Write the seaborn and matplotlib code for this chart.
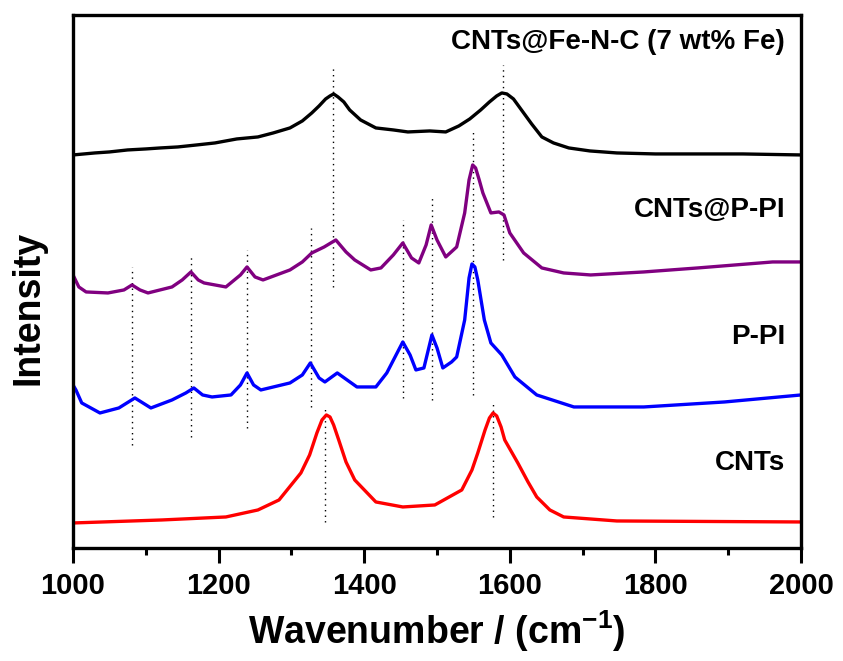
import pandas as pd
import matplotlib
matplotlib.use("Agg")
import matplotlib.pyplot as plt
import seaborn as sns

# Raman spectra (wavenumber, offset intensity in a.u.)
wn_fenc = [1000, 1030, 1050, 1075, 1100, 1120, 1144, 1170, 1195, 1225, 1254, 1275, 1298,
           1315, 1328, 1338, 1347, 1353, 1358, 1364, 1372, 1380, 1395,
           1416, 1440, 1460, 1490, 1512, 1530, 1545, 1560, 1572, 1582, 1589, 1596,
           1605, 1615, 1630, 1644, 1660, 1681, 1710, 1747, 1800, 1858, 1920, 2000]
int_fenc = [393, 395, 396, 398, 399, 400, 401, 403, 405, 409, 411, 415, 420,
            427, 435, 442, 449, 452, 454, 451, 446, 438, 428,
            420, 418, 416, 417, 416, 422, 429, 438, 446, 452, 455, 454,
            449, 439, 424, 411, 405, 400, 397, 395, 394, 394, 394, 393]

wn_cppi = [1000, 1008, 1018, 1048, 1070, 1081, 1092, 1103, 1136, 1150, 1162, 1172, 1180,
           1210, 1230, 1239, 1250, 1261, 1298, 1315, 1328, 1345, 1361, 1375, 1387, 1409,
           1423, 1440, 1453, 1465, 1475, 1485, 1492, 1500, 1512, 1527, 1538, 1544, 1549,
           1553, 1558, 1563, 1574, 1585, 1592, 1600, 1619, 1644, 1674, 1711, 1784, 1858,
           1961, 2000]
int_cppi = [273, 261, 256, 255, 258, 263, 258, 255, 261, 268, 276, 268, 265,
            261, 273, 281, 271, 268, 278, 286, 295, 301, 308, 296, 288, 278,
            280, 293, 305, 290, 285, 303, 323, 308, 291, 301, 335, 368, 383,
            380, 368, 355, 335, 336, 333, 315, 295, 280, 275, 273, 276, 280,
            286, 286]

wn_ppi = [1000, 1004, 1012, 1037, 1063, 1085, 1107, 1136, 1155, 1166, 1178, 1191, 1217,
          1230, 1239, 1248, 1258, 1298, 1315, 1326, 1338, 1346, 1363, 1390, 1416, 1431,
          1453, 1463, 1471, 1482, 1493, 1500, 1508, 1520, 1527, 1538, 1544, 1548, 1552,
          1556, 1565, 1574, 1589, 1607, 1637, 1688, 1784, 1895, 2000]
int_ppi = [163, 158, 145, 135, 140, 150, 140, 148, 155, 160, 153, 151, 153,
           163, 175, 163, 158, 165, 173, 185, 170, 166, 175, 161, 161, 175,
           206, 193, 178, 180, 213, 200, 180, 186, 191, 228, 270, 284, 281,
           268, 228, 205, 193, 171, 153, 141, 141, 146, 153]

wn_cnt = [1000, 1122, 1210, 1254, 1283, 1313, 1325, 1335, 1342, 1348, 1353, 1358, 1365,
          1375, 1387, 1416, 1453, 1497, 1534, 1548, 1556, 1566, 1572, 1577, 1582, 1588,
          1593, 1611, 1625, 1637, 1655, 1674, 1747, 2000]
int_cnt = [25, 28, 31, 38, 48, 75, 93, 115, 128, 133, 131, 123, 108,
           86, 68, 46, 41, 43, 58, 78, 95, 118, 130, 135, 132, 121,
           108, 85, 66, 51, 38, 31, 27, 26]

names = ["CNTs@Fe-N-C (7 wt% Fe)", "CNTs@P-PI", "P-PI", "CNTs"]
colors = ["black", "#800080", "#0000ff", "#ff0000"]
label_y = [506, 338, 211, 85]

# dotted guide lines: peak position, top and bottom intensity
peak_wn = [1081, 1162, 1239, 1327, 1357, 1453, 1493, 1549, 1590, 1346, 1577]
peak_top = [281, 291, 298, 320, 481, 328, 350, 416, 483, 140, 145]
peak_bot = [103, 111, 120, 141, 261, 150, 148, 153, 288, 26, 31]

frames = []
for name, wn, inten in zip(names,
                           [wn_fenc, wn_cppi, wn_ppi, wn_cnt],
                           [int_fenc, int_cppi, int_ppi, int_cnt]):
    frames.append(pd.DataFrame({"wn": wn, "I": inten, "sample": name}))
df = pd.concat(frames, ignore_index=True)

sns.set_style("ticks", {"axes.edgecolor": "black", "text.color": "black",
                        "xtick.color": "black", "axes.labelcolor": "black"})
plt.rcParams['font.family'] = ['Liberation Sans', 'DejaVu Sans']
plt.rcParams['font.weight'] = 'bold'
plt.rcParams['mathtext.fontset'] = 'custom'
plt.rcParams['mathtext.rm'] = 'Liberation Sans:bold'
plt.rcParams['mathtext.bf'] = 'Liberation Sans:bold'

fig = plt.figure(figsize=(8.43, 6.61), dpi=100)
ax = fig.add_axes([0.0866, 0.171, 0.8636, 0.8064])

ax.vlines(peak_wn, peak_bot, peak_top, colors="black", linestyles=(0, (1, 3)), lw=1.0)

sns.lineplot(data=df, x="wn", y="I", hue="sample", palette=dict(zip(names, colors)),
             sort=False, estimator=None, lw=2.4, legend=False, ax=ax)

for name, yv in zip(names, label_y):
    ax.text(1978, yv, name, ha="right", va="center", fontsize=20,
            fontweight="bold", color="black")

ax.set_xlim(1000, 2000)
ax.set_ylim(0, 533)
ax.set_xticks([1000, 1200, 1400, 1600, 1800, 2000])
ax.set_xticks([1100, 1300, 1500, 1700, 1900], minor=True)
ax.set_yticks([])
ax.tick_params(axis="x", which="major", direction="out", length=11, width=2.2,
               labelsize=21, pad=6, colors="black")
ax.tick_params(axis="x", which="minor", direction="out", length=5, width=2.2,
               colors="black")
for sp in ax.spines.values():
    sp.set_linewidth(2.4)
    sp.set_color("black")
    sp.set_visible(True)

ax.set_xlabel(r"Wavenumber / (cm$^{\mathbf{-1}}$)", fontsize=27, fontweight="bold",
              labelpad=6, color="black")
ax.set_ylabel("Intensity", fontsize=27, fontweight="bold", color="black")
ax.yaxis.set_label_coords(-0.036, 0.45)

fig.savefig("out.png", dpi=100)
